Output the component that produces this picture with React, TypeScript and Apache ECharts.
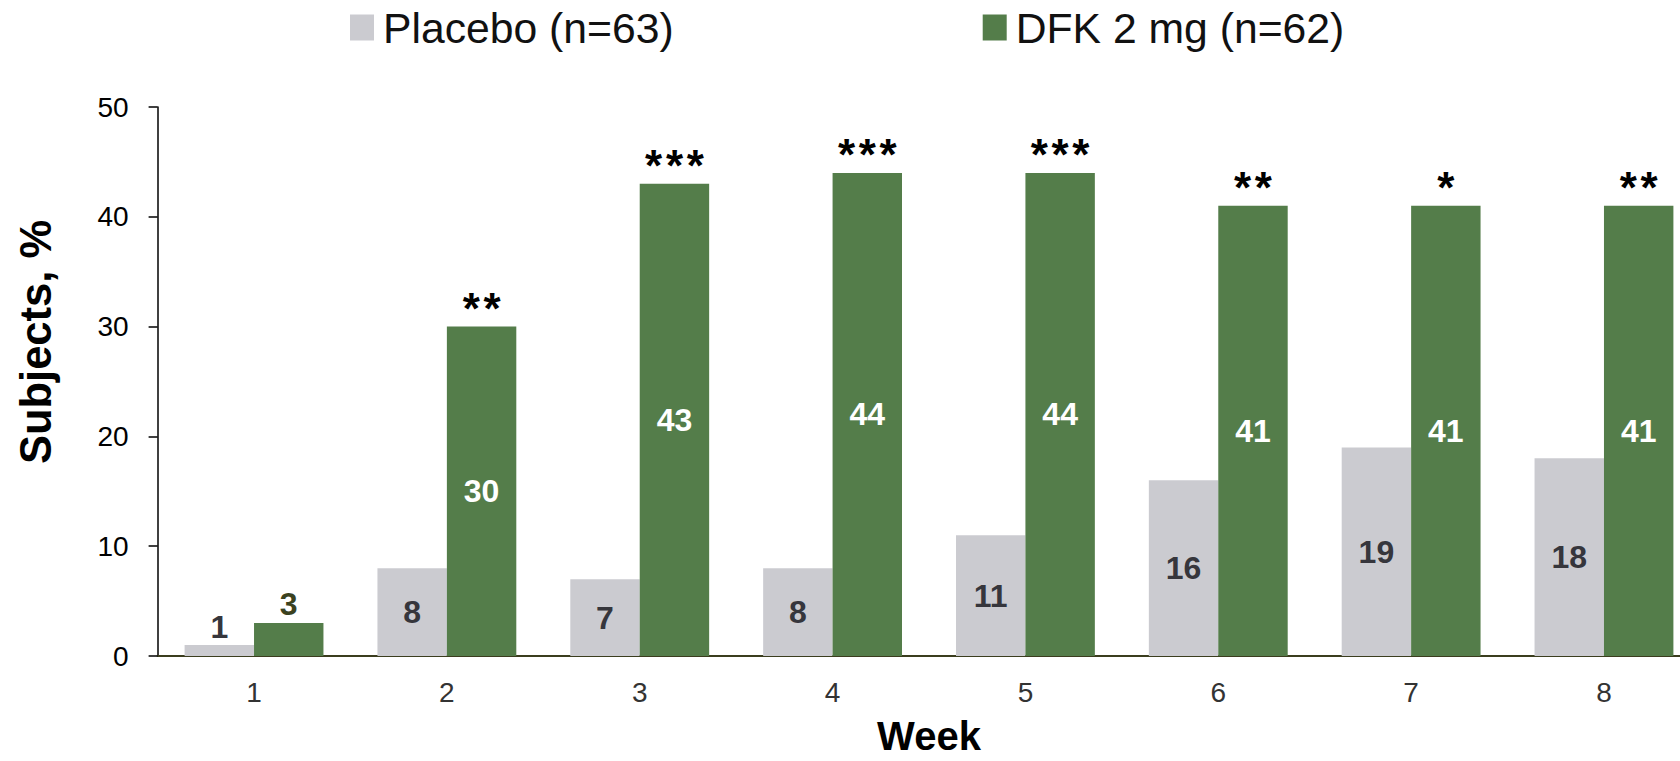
import React, { useEffect, useRef } from "react";
import * as echarts from "echarts";

const weeks = ["1", "2", "3", "4", "5", "6", "7", "8"];
const placeboValues = [1, 8, 7, 8, 11, 16, 19, 18];
const dfkValues = [3, 30, 43, 44, 44, 41, 41, 41];
const significance = ["", "**", "***", "***", "***", "**", "*", "**"];
const seriesNames = ["Placebo (n=63)", "DFK 2 mg (n=62)"];
const yTicks = { min: 0, max: 50, interval: 10 };

const FONT = "'Liberation Sans', Arial, Helvetica, sans-serif";
const GRAY = "#CBCBD0";
const GREEN = "#547D4A";

export default function App() {
  const ref = useRef<HTMLDivElement>(null);

  useEffect(() => {
    if (!ref.current) return;
    const chart = echarts.init(ref.current, null, { renderer: "svg" });

    const placeboData = placeboValues.map((v) =>
      v < 5
        ? { value: v, label: { position: "top", distance: 2, color: "#36363c" } }
        : v
    );
    const dfkData = dfkValues.map((v) =>
      v < 5
        ? { value: v, label: { position: "top", distance: 3, color: "#3b421f" } }
        : v
    );
    const starData = significance.map(() => 0);

    chart.setOption({
      animation: false,
      textStyle: { fontFamily: FONT },
      legend: {
        data: seriesNames,
        left: 350,
        top: 6,
        padding: 0,
        itemGap: 309,
        itemWidth: 24,
        itemHeight: 26,
        icon: "rect",
        selectedMode: false,
        textStyle: { fontSize: 42.7, color: "#111", fontFamily: FONT, padding: [0, 0, 0, 4] },
      },
      grid: {
        left: 157.6,
        right: -20.4,
        top: 107,
        bottom: 105,
        containLabel: false,
        outerBoundsMode: "none",
      },
      xAxis: {
        type: "category",
        data: weeks,
        name: "Week",
        nameLocation: "middle",
        nameGap: 62,
        nameTextStyle: {
          fontSize: 40,
          lineHeight: 36,
          fontWeight: "bold",
          color: "#000",
          fontFamily: FONT,
        },
        axisLine: { show: true, lineStyle: { color: "#3b3d1e", width: 2 } },
        axisTick: { show: false },
        axisLabel: { fontSize: 28, color: "#333", margin: 22, fontFamily: FONT },
        splitLine: { show: false },
      },
      yAxis: {
        type: "value",
        min: yTicks.min,
        max: yTicks.max,
        interval: yTicks.interval,
        axisLine: { show: true, lineStyle: { color: "#000", width: 1.5 } },
        axisTick: { show: true, inside: false, length: 9, lineStyle: { color: "#000", width: 1.5 } },
        axisLabel: { fontSize: 28, color: "#000", margin: 29, fontFamily: FONT },
        splitLine: { show: false },
      },
      graphic: [
        {
          type: "text",
          x: 36,
          y: 342,
          rotation: Math.PI / 2,
          style: {
            text: "Subjects, %",
            fontSize: 43.5,
            fontWeight: "bold",
            fill: "#000",
            fontFamily: FONT,
            align: "center",
            verticalAlign: "middle",
          },
        },
      ],
      series: [
        {
          name: seriesNames[0],
          type: "bar",
          data: placeboData,
          itemStyle: { color: GRAY },
          barGap: "0%",
          barCategoryGap: "28%",
          label: {
            show: true,
            position: "inside",
            fontSize: 32,
            fontWeight: "bold",
            color: "#36363c",
            fontFamily: FONT,
          },
        },
        {
          name: seriesNames[1],
          type: "bar",
          stack: "dfk",
          data: dfkData,
          itemStyle: { color: GREEN },
          barGap: "0%",
          barCategoryGap: "28%",
          label: {
            show: true,
            position: "inside",
            fontSize: 32,
            fontWeight: "bold",
            color: "#fff",
            fontFamily: FONT,
          },
        },
        {
          name: "sig",
          type: "bar",
          stack: "dfk",
          data: starData,
          itemStyle: { color: "transparent" },
          barGap: "0%",
          barCategoryGap: "28%",
          silent: true,
          label: {
            show: true,
            position: "top",
            distance: -4,
            fontSize: 44,
            fontWeight: "bold",
            color: "#000",
            fontFamily: FONT,
            formatter: (p: any) => significance[p.dataIndex].split("").join("\u200A"),
          },
        },
      ],
    });

    return () => chart.dispose();
  }, []);

  return (
    <div
      ref={ref}
      style={{ position: "absolute", left: 0, top: 0, width: 1680, height: 761 }}
    />
  );
}
